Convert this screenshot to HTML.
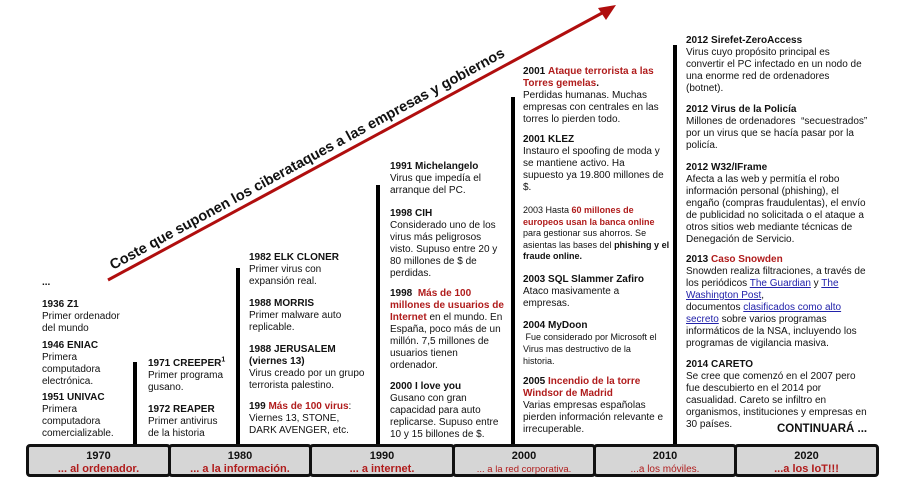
<!DOCTYPE html>
<html><head><meta charset="utf-8"><style>
html,body{margin:0;padding:0;background:#fff;}
#c{position:relative;width:900px;height:492px;overflow:hidden;font-family:"Liberation Sans",Arial,sans-serif;color:#111;}
.t{position:absolute;font-size:10px;line-height:12px;white-space:nowrap;}
.t b{font-weight:bold;}
.r{color:#b01c1c;font-weight:bold;}
.s{font-size:9px;line-height:11.5px;}
.bar{position:absolute;width:4px;background:#000;}
.box{position:absolute;top:444px;height:33px;background:#d6d6d6;border:3px solid #111;border-radius:4px;box-sizing:border-box;text-align:center;font-weight:bold;font-size:11px;line-height:13px;padding-top:3px;}
.box span{color:#b01c1c;display:block;}
a{color:#2222aa;text-decoration:underline;}
</style></head><body><div id="c">
<svg width="900" height="492" style="position:absolute;left:0;top:0">
<line x1="108" y1="280" x2="604" y2="12" stroke="#b00e0e" stroke-width="3"/>
<polygon points="616,5 598,8 606,20" fill="#b00e0e"/>
<text x="0" y="0" transform="translate(113,270) rotate(-28.6)" font-family="Liberation Sans, Arial, sans-serif" font-weight="bold" font-size="14.5" fill="#111">Coste que suponen los ciberataques a las empresas y gobiernos</text>
</svg>
<div class="bar" style="left:133px;top:362px;height:84px"></div>
<div class="bar" style="left:236px;top:268px;height:178px"></div>
<div class="bar" style="left:376px;top:185px;height:261px"></div>
<div class="bar" style="left:511px;top:97px;height:349px"></div>
<div class="bar" style="left:673px;top:45px;height:401px"></div>

<div class="t" style="left:42px;top:277px"><b>...</b></div>
<div class="t" style="left:42px;top:299px"><b>1936 Z1</b><br>Primer ordenador<br>del mundo</div>
<div class="t" style="left:42px;top:340px"><b>1946 ENIAC</b><br>Primera<br>computadora<br>electrónica.</div>
<div class="t" style="left:42px;top:392px"><b>1951 UNIVAC</b><br>Primera<br>computadora<br>comercializable.</div>

<div class="t" style="left:148px;top:358px"><b>1971 CREEPER<sup style="font-size:7px;line-height:0">1</sup></b><br>Primer programa<br>gusano.</div>
<div class="t" style="left:148px;top:404px"><b>1972 REAPER</b><br>Primer antivirus<br>de la historia</div>

<div class="t" style="left:249px;top:252px"><b>1982 ELK CLONER</b><br>Primer virus con<br>expansión real.</div>
<div class="t" style="left:249px;top:298px"><b>1988 MORRIS</b><br>Primer malware auto<br>replicable.</div>
<div class="t" style="left:249px;top:344px"><b>1988 JERUSALEM<br>(viernes 13)</b><br>Virus creado por un grupo<br>terrorista palestino.</div>
<div class="t" style="left:249px;top:401px"><b>199</b> <span class="r">Más de 100 virus</span>:<br>Viernes 13, STONE,<br>DARK AVENGER, etc.</div>

<div class="t" style="left:390px;top:161px"><b>1991 Michelangelo</b><br>Virus que impedía el<br>arranque del PC.</div>
<div class="t" style="left:390px;top:208px"><b>1998 CIH</b><br>Considerado uno de los<br>virus más peligrosos<br>visto. Supuso entre 20 y<br>80 millones de $ de<br>perdidas.</div>
<div class="t" style="left:390px;top:288px"><b>1998</b> &nbsp;<span class="r">Más de 100<br>millones de usuarios de<br>Internet</span> en el mundo. En<br>España, poco más de un<br>millón. 7,5 millones de<br>usuarios tienen<br>ordenador.</div>
<div class="t" style="left:390px;top:381px"><b>2000 I love you</b><br>Gusano con gran<br>capacidad para auto<br>replicarse. Supuso entre<br>10 y 15 billones de $.</div>

<div class="t" style="left:523px;top:66px"><b>2001</b> <span class="r">Ataque terrorista a las<br>Torres gemelas</span><b>.</b><br>Perdidas humanas. Muchas<br>empresas con centrales en las<br>torres lo pierden todo.</div>
<div class="t" style="left:523px;top:134px"><b>2001 KLEZ</b><br>Instauro el spoofing de moda y<br>se mantiene activo. Ha<br>supuesto ya 19.800 millones de<br>$.</div>
<div class="t s" style="left:523px;top:205px">2003 Hasta <span class="r">60 millones de<br>europeos usan la banca online</span><br>para gestionar sus ahorros. Se<br>asientas las bases del <b>phishing y el<br>fraude online.</b></div>
<div class="t" style="left:523px;top:274px"><b>2003 SQL Slammer Zafiro</b><br>Ataco masivamente a<br>empresas.</div>
<div class="t" style="left:523px;top:320px"><b>2004 MyDoon</b><br><span class="s">&nbsp;Fue considerado por Microsoft el<br>Virus mas destructivo de la<br>historia.</span></div>
<div class="t" style="left:523px;top:376px"><b>2005</b> <span class="r">Incendio de la torre<br>Windsor de Madrid</span><br>Varias empresas españolas<br>pierden información relevante e<br>irrecuperable.</div>

<div class="t" style="left:686px;top:35px"><b>2012 Sirefet-ZeroAccess</b><br>Virus cuyo propósito principal es<br>convertir el PC infectado en un nodo de<br>una enorme red de ordenadores<br>(botnet).</div>
<div class="t" style="left:686px;top:104px"><b>2012 Virus de la Policía</b><br>Millones de ordenadores &nbsp;“secuestrados”<br>por un virus que se hacía pasar por la<br>policía.</div>
<div class="t" style="left:686px;top:162px"><b>2012 W32/IFrame</b><br>Afecta a las web y permitía el robo<br>información personal (phishing), el<br>engaño (compras fraudulentas), el envío<br>de publicidad no solicitada o el ataque a<br>otros sitios web mediante técnicas de<br>Denegación de Servicio.</div>
<div class="t" style="left:686px;top:254px"><b>2013</b> <span class="r">Caso Snowden</span><br>Snowden realiza filtraciones, a través de<br>los periódicos <a>The Guardian</a> y <a>The<br>Washington Post</a>,<br>documentos <a>clasificados como alto<br>secreto</a> sobre varios programas<br>informáticos de la NSA, incluyendo los<br>programas de vigilancia masiva.</div>
<div class="t" style="left:686px;top:359px"><b>2014 CARETO</b><br>Se cree que comenzó en el 2007 pero<br>fue descubierto en el 2014 por<br>casualidad. Careto se infiltro en<br>organismos, instituciones y empresas en<br>30 países.</div>
<div class="t" style="left:777px;top:423px;font-size:11.5px;font-weight:bold">CONTINUARÁ ...</div>

<div class="box" style="left:26px;width:145px">1970<span>... al ordenador.</span></div>
<div class="box" style="left:168px;width:144px">1980<span>... a la información.</span></div>
<div class="box" style="left:309px;width:146px">1990<span>... a internet.</span></div>
<div class="box" style="left:452px;width:144px">2000<span style="font-size:9.5px;font-weight:normal">... a la red corporativa.</span></div>
<div class="box" style="left:593px;width:144px">2010<span style="font-size:10px;font-weight:normal">...a los móviles.</span></div>
<div class="box" style="left:734px;width:145px">2020<span>...a los IoT!!!</span></div>
</div></body></html>
